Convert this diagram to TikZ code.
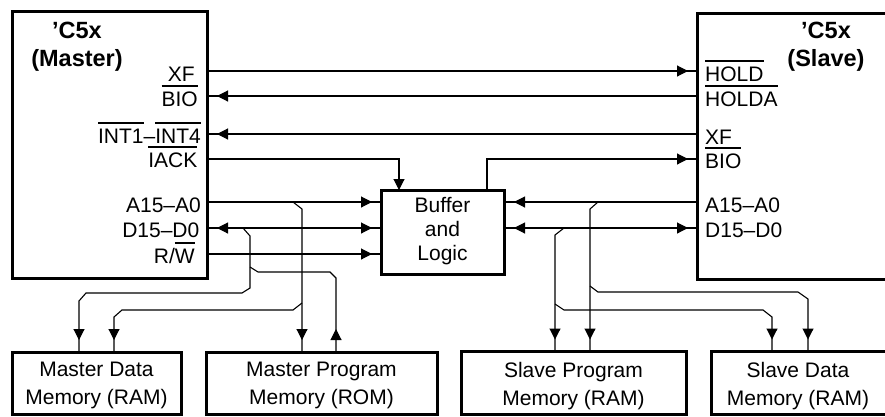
\documentclass[tikz,border=0pt]{standalone}
\usepackage{fontspec}
\setmainfont{Liberation Sans}
\usetikzlibrary{arrows.meta,decorations.markings}
\newcommand\ovl[1]{\vbox{\hrule height 2pt\kern 4.5pt\hbox{#1}}}
\begin{document}
\begin{tikzpicture}[x=1pt,y=-1pt,
  >={Triangle[length=11pt,width=11pt]},
  box/.style={draw, line width=3pt, inner sep=0pt, outer sep=0pt, anchor=north west},
  sig/.style={line width=1.1pt},
  lbl/.style={inner sep=0pt, font=\fontsize{21}{25}\selectfont},
  ttl/.style={inner sep=0pt, align=center, font=\fontsize{23.5}{27.5}\selectfont\bfseries},
  memtxt/.style={inner sep=0pt, align=center, font=\fontsize{21}{28}\selectfont},
  arrat/.style={postaction={decorate}, decoration={markings, mark=at position #1 with {\arrow{>}}}},
  both/.style 2 args={postaction={decorate}, decoration={markings,
      mark=at position #1 with {\arrowreversed{>}}, mark=at position #2 with {\arrow{>}}}},
]
\useasboundingbox (0,0) rectangle (885,416);
\begin{scope}
\clip (0,0) rectangle (885,416);
% boxes
\node[box, minimum width=195pt, minimum height=266.5pt] (master) at (12,11.5) {};
\node[box, minimum width=250pt, minimum height=266pt] (slave) at (697,13) {};
\node[box, minimum width=123pt, minimum height=84pt] (buffer) at (381,190) {};
\node[box, minimum width=169pt, minimum height=62pt] (mdm) at (12,352) {};
\node[box, minimum width=231pt, minimum height=62pt] (mpm) at (206,352) {};
\node[box, minimum width=225pt, minimum height=62.5pt] (spm) at (461,351.5) {};
\node[box, minimum width=200pt, minimum height=62.5pt] (sdm) at (711,351.5) {};
% texts
\node[ttl] (mtitle) at (77,46.5) {’C5x\\(Master)};
\node[ttl] (stitle) at (826,46.5) {’C5x\\(Slave)};
\node[memtxt, font=\fontsize{21}{24}\selectfont] (buftxt) at (442.5,231.5) {Buffer\\and\\Logic};
\node[memtxt] (mdmtxt) at (96.5,385.7) {Master Data\\Memory (RAM)};
\node[memtxt] (mpmtxt) at (321.5,385.7) {Master Program\\Memory (ROM)};
\node[memtxt] (spmtxt) at (573.5,385.7) {Slave Program\\Memory (RAM)};
\node[memtxt] (sdmtxt) at (798,385.7) {Slave Data\\Memory (RAM)};
% master labels
\node[lbl, anchor=base east] (lmXF) at (195,81) {XF};
\node[lbl, anchor=base east] (lmBIO) at (198,106) {\ovl{BIO}};
\node[lbl, anchor=base east] (lmINT) at (201,143) {\ovl{INT1}–\ovl{INT4}};
\node[lbl, anchor=base east] (lmIACK) at (197.5,167) {\ovl{IACK}};
\node[lbl, anchor=base east] (lmA) at (201,212) {A15–A0};
\node[lbl, anchor=base east] (lmD) at (199.5,237.5) {D15–D0};
\node[lbl, anchor=base east] (lmRW) at (195,263) {R/\ovl{W}};
% slave labels
\node[lbl, anchor=base west] (lsHOLD) at (705,81) {\ovl{HOLD}};
\node[lbl, anchor=base west] (lsHOLDA) at (705,106) {\ovl{HOLDA}};
\node[lbl, anchor=base west] (lsXF) at (705,144) {XF};
\node[lbl, anchor=base west] (lsBIO) at (705,168.5) {\ovl{BIO}};
\node[lbl, anchor=base west] (lsA) at (705,212) {A15–A0};
\node[lbl, anchor=base west] (lsD) at (705,237.5) {D15–D0};
% ports
\coordinate (mXF) at (207,71);
\coordinate (mBIO) at (207,96);
\coordinate (mINT) at (207,134);
\coordinate (mIACK) at (207,159);
\coordinate (mA) at (207,202);
\coordinate (mD) at (207,228);
\coordinate (mRW) at (207,254);
\coordinate (sHOLD) at (697,71);
\coordinate (sHOLDA) at (697,96);
\coordinate (sXF) at (697,134);
\coordinate (sBIO) at (697,159);
\coordinate (sA) at (697,202);
\coordinate (sD) at (697,228);
\coordinate (bAl) at (381,202);
\coordinate (bDl) at (381,228);
\coordinate (bRW) at (381,254);
\coordinate (bAr) at (504,202);
\coordinate (bDr) at (504,228);
\coordinate (bT1) at (399,190);
\coordinate (bT2) at (487,190);
\coordinate (mdm1) at (79,352);
\coordinate (mdm2) at (114,352);
\coordinate (mpm1) at (302,352);
\coordinate (mpm2) at (336,352);
\coordinate (spm1) at (555,351.5);
\coordinate (spm2) at (590,351.5);
\coordinate (sdm1) at (772,351.5);
\coordinate (sdm2) at (808,351.5);
\coordinate (tapMA) at (293,202);
\coordinate (jMA) at (302,303);
\coordinate (tapMD) at (243,228);
\coordinate (jMD) at (250,267);
\coordinate (tapSA) at (598,202);
\coordinate (jSA) at (590,286);
\coordinate (tapSD) at (564,228);
\coordinate (jSD) at (555,304);
% main connectors
\draw[sig, arrat=-9pt] (mXF) -- (sHOLD);
\draw[sig, arrat=-10pt] (sHOLDA) -- (mBIO);
\draw[sig, arrat=-10pt] (sXF) -- (mINT);
\draw[sig, ->] (mIACK) -| (bT1);
\draw[sig, arrat=-9pt] (bT2) |- (sBIO);
\draw[sig, arrat=-9pt] (mA) -- (bAl);
\draw[sig, both={10pt}{-9pt}] (mD) -- (bDl);
\draw[sig, arrat=-9pt] (mRW) -- (bRW);
\draw[sig, arrat=-10pt] (sA) -- (bAr);
\draw[sig, both={10pt}{-9pt}] (bDr) -- (sD);
% bus taps, master side
\draw[sig, arrat=-12pt] (tapMA) -- (302,209) -- (mpm1);
\draw[sig, arrat=-12pt] (jMA) -- (293,310) -- (122,310) -- (114,317) -- (mdm2);
\draw[sig, arrat=-12pt] (tapMD) -- (250,236) -- (250,288) -- (242,293) -- (86,293) -- (79,301) -- (mdm1);
\draw[sig, arrat=23pt] (mpm2) -- (336,278) -- (330,272) -- (258,272) -- (jMD);
% bus taps, slave side
\draw[sig, arrat=-12pt] (tapSA) -- (590,209) -- (spm2);
\draw[sig, arrat=-12pt] (jSA) -- (598,292) -- (798,292) -- (808,299) -- (sdm2);
\draw[sig, arrat=-12pt] (tapSD) -- (555,235) -- (spm1);
\draw[sig, arrat=-12pt] (jSD) -- (564,310) -- (763,310) -- (772,317) -- (sdm1);
\end{scope}
\end{tikzpicture}
\end{document}
